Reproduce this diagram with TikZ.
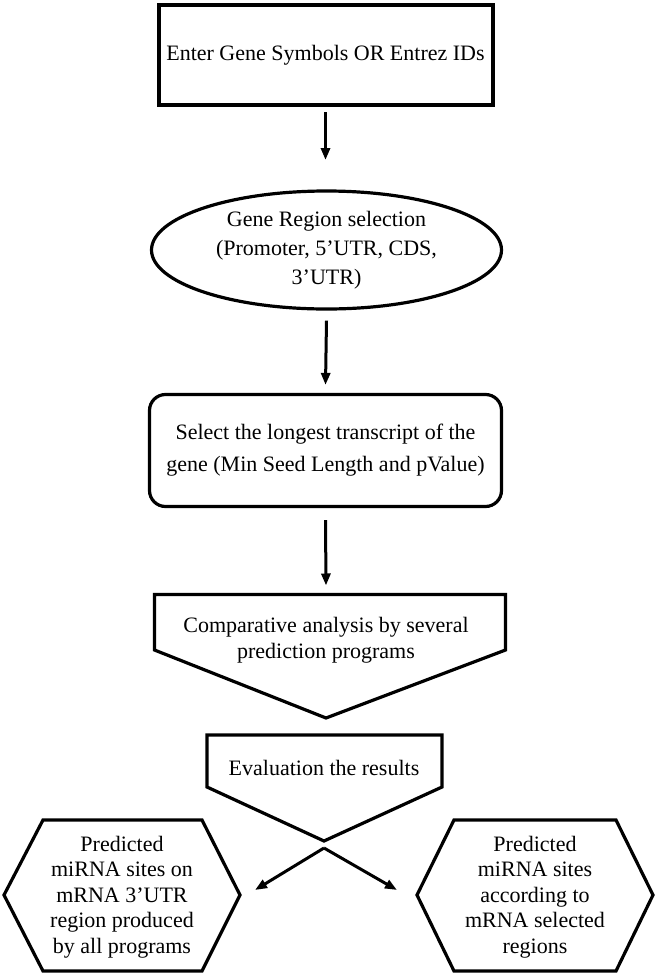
\documentclass[tikz,border=0pt]{standalone}
\usepackage{fontspec}
\setmainfont{Liberation Serif}
\usetikzlibrary{arrows.meta,shapes.geometric}
\begin{document}
\begin{tikzpicture}[x=1pt,y=-1pt,
  every node/.style={font=\fontsize{22}{26}\selectfont, align=center, inner sep=0pt, text=black},
  ln/.style={line width=3.2pt, draw=black, line join=miter},
  arr/.style={line width=3pt, draw=black, -{Triangle[length=12pt,width=9pt]}}]
\useasboundingbox[fill=white] (0,0) rectangle (660,975);

% top box
\node[draw, line width=4pt, minimum width=334pt, minimum height=100pt] (top) at (325.5,55) {Enter Gene Symbols OR Entrez IDs};

% ellipse
\node[ellipse, ln, minimum width=350pt, minimum height=118pt, font=\fontsize{22}{29}\selectfont] (ell) at (326.5,250) {Gene Region selection\\(Promoter, 5'UTR, CDS,\\3'UTR)};

% rounded box
\node[ln, rounded corners=16pt, minimum width=352pt, minimum height=112pt, font=\fontsize{22}{32}\selectfont] (rr) at (325.5,450.5) {Select the longest transcript of the\\gene (Min Seed Length and pValue)};

% pentagon 1
\coordinate (p1a) at (154.5,594.5);
\coordinate (p1b) at (505.5,594.5);
\coordinate (p1c) at (505.5,650);
\coordinate (p1d) at (326,718);
\coordinate (p1e) at (154.5,650);
\coordinate (p1top) at (326,594.5);
\draw[ln] (p1a) -- (p1b) -- (p1c) -- (p1d) -- (p1e) -- cycle;
\node (cmp) at (326,640) {Comparative analysis by several\\prediction programs};

% pentagon 2
\coordinate (p2a) at (207,735);
\coordinate (p2b) at (442,735);
\coordinate (p2c) at (442,787);
\coordinate (p2d) at (324,841);
\coordinate (p2e) at (207,787);
\draw[ln] (p2a) -- (p2b) -- (p2c) -- (p2d) -- (p2e) -- cycle;
\node (ev) at (324,768) {Evaluation the results};

% hexagon left
\coordinate (h1a) at (4,895);
\coordinate (h1b) at (43,820);
\coordinate (h1c) at (202,820);
\coordinate (h1d) at (240,895);
\coordinate (h1e) at (202,971);
\coordinate (h1f) at (43,971);
\draw[ln] (h1a) -- (h1b) -- (h1c) -- (h1d) -- (h1e) -- (h1f) -- cycle;
\node[font=\fontsize{22}{25.5}\selectfont] (hl) at (122,897) {Predicted\\miRNA sites on\\mRNA 3'UTR\\region produced\\by all programs};

% hexagon right
\coordinate (h2a) at (417,895);
\coordinate (h2b) at (454,820);
\coordinate (h2c) at (616,820);
\coordinate (h2d) at (653,895);
\coordinate (h2e) at (616,971);
\coordinate (h2f) at (454,971);
\draw[ln] (h2a) -- (h2b) -- (h2c) -- (h2d) -- (h2e) -- (h2f) -- cycle;
\node[font=\fontsize{22}{25.5}\selectfont] (hr) at (535,897) {Predicted\\miRNA sites\\according to\\mRNA selected\\regions};

% connectors
\coordinate (a1) at (325.5,160);
\draw[arr] ([yshift=-5pt]top.south) -- (a1);
\draw[arr] ([yshift=-10pt]ell.south) -- ([yshift=8pt]rr.north);
\draw[arr] ([yshift=-12pt]rr.south) -- ([yshift=9pt]p1top);
\coordinate (fork) at (324,848);
\coordinate (tl) at (255,890);
\coordinate (tr) at (397,890);
\draw[arr] (fork) -- (tl);
\draw[arr] (fork) -- (tr);
\end{tikzpicture}
\end{document}
